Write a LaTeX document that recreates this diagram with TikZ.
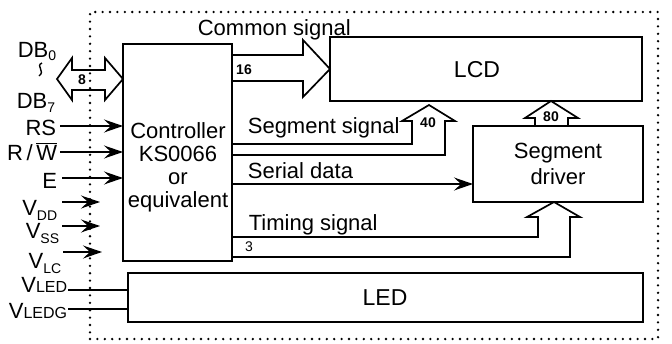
\documentclass[tikz,border=0pt]{standalone}
\usepackage{fontspec}
\setmainfont{Liberation Sans}
\usetikzlibrary{arrows.meta}
\newcommand\lowsub[2][4pt]{\raisebox{-#1}{\fontsize{14}{14}\selectfont #2}}
\newcommand\smc[1]{{\fontsize{16}{16}\selectfont #1}}
\begin{document}
\begin{tikzpicture}[x=1pt,y=-1pt,line width=1.7pt,
  box/.style={draw,line width=1.9pt,inner sep=0pt,outer sep=0pt,anchor=north west},
  txt/.style={font=\fontsize{22}{24}\selectfont,inner sep=0pt},
  big/.style={font=\fontsize{23}{24}\selectfont,inner sep=0pt},
  num/.style={font=\fontsize{14}{14}\selectfont\bfseries,inner sep=0pt},
  sig/.style={-{Stealth[length=19pt,width=13pt,inset=7pt]},line width=1.7pt},
  wide/.style={line width=1.7pt,line join=miter},
  frame/.style={draw,line width=2.6pt,dash pattern=on 0pt off 7.4pt,line cap=round,inner sep=0pt,outer sep=0pt,anchor=north west}]
\useasboundingbox (0,0) rectangle (672,343);
% dotted module frame
\node[frame,minimum width=568pt,minimum height=327pt] (module) at (90,12) {};
% blocks
\node[box,minimum width=109pt,minimum height=217pt] (ctrl) at (123,44) {};
\node[box,minimum width=312pt,minimum height=64pt] (lcd) at (330,37) {};
\node[box,minimum width=170pt,minimum height=76pt] (drv) at (473,126) {};
\node[box,minimum width=515pt,minimum height=49pt] (led) at (128,273) {};
% block texts
\node[txt,align=center] (ctrlt) at (178,167) {Controller\\[-1pt]KS0066\\[-1pt]or\\[-1pt]equivalent};
\node[big] (lcdt) at (477,70) {LCD};
\node[big] (ledt) at (385,298) {LED};
\node[txt,align=center] (drvt) at (558,164) {Segment\\[2pt]driver};
% common signal
\node[txt,anchor=base west] (comt) at (197,35) {Common signal};
\draw[wide] (ctrl.east |- 0,55) -- (303,55) -- (303,40) -- (lcd.west |- 0,69) -- (303,97) -- (303,81) -- (ctrl.east |- 0,81);
\node[num] (n16) at (244,70) {16};
% segment signal
\node[txt,anchor=base west] (segt) at (247,133) {Segment signal};
\draw[wide] (ctrl.east |- 0,155) -- (445,155) -- (445,121) -- (455,121) -- (429,105) -- (402,121) -- (412,121) -- (412,144) -- (ctrl.east |- 0,144);
\node[num] (n40) at (428,123) {40};
% 80 bus
\draw[wide] (drv.north -| 535,0) -- (535,118) -- (525,118) -- (lcd.south -| 551,0) -- (578,118) -- (568,118) -- (drv.north -| 568,0);
\node[num] (n80) at (551,117) {80};
% serial data
\node[txt,anchor=base west] (sert) at (247,178) {Serial data};
\draw[sig] (ctrl.east |- 0,184) -- (drv.west |- 0,184);
% timing signal
\node[txt,anchor=base west] (timt) at (248,230) {Timing signal};
\draw[wide] (ctrl.east |- 0,257) -- (570,257) -- (570,217) -- (580,217) -- (drv.south -| 554,0) -- (527,217) -- (538,217) -- (538,237) -- (ctrl.east |- 0,237);
\node[num,font=\fontsize{14}{14}\selectfont] (n3) at (249,247) {3};
% data bus
\draw[wide] (72,70) -- (105,70) -- (105,58) -- (ctrl.west |- 0,79) -- (105,100) -- (105,90) -- (72,90) -- (72,100) -- (57,79) -- (72,58) -- cycle;
\node[num] (n8) at (82,80) {8};
% left labels
\node[txt,anchor=base east] (db0) at (57,57) {DB\lowsub[3pt]{0}};
\draw[line width=1.4pt] (42,63) .. controls (35,66) and (46,71) .. (39,76);
\node[txt,anchor=base east] (db7) at (56,108) {DB\lowsub{7}};
\node[txt,anchor=base east] (rs) at (57,135) {RS};
\node[txt,anchor=base east] (rw) at (58,160) {R\,/\,$\overline{\hbox{W}}$};
\node[txt,anchor=base east] (e) at (58,188) {E};
\node[txt,anchor=base east] (vdd) at (58,215) {V\lowsub[5pt]{DD}};
\node[txt,anchor=base east] (vss) at (60,238) {V\lowsub[5pt]{SS}};
\node[txt,anchor=base east] (vlc) at (62,268) {V\lowsub[5pt]{LC}};
\node[txt,anchor=base east] (vled) at (68,292) {V\smc{LED}};
\node[txt,anchor=base east] (vledg) at (68,318) {V\smc{LEDG}};
% input coordinates
\coordinate (rsin) at (60,126);
\coordinate (rwin) at (60,152);
\coordinate (ein) at (62,178);
\coordinate (vddin) at (62,202);
\coordinate (vssin) at (62,226);
\coordinate (vlcin) at (63,252);
\coordinate (vddend) at (100,202);
\coordinate (vssend) at (100,226);
\coordinate (vlcend) at (102,252);
\coordinate (vledin) at (68,290);
\coordinate (vledgin) at (68,309);
\draw[sig] (rsin) -- (rsin -| ctrl.west);
\draw[sig] (rwin) -- (rwin -| ctrl.west);
\draw[sig] (ein) -- (ein -| ctrl.west);
\draw[sig] (vddin) -- (vddend);
\draw[sig] (vssin) -- (vssend);
\draw[sig] (vlcin) -- (vlcend);
\draw (vledin) -- (vledin -| led.west);
\draw (vledgin) -- (vledgin -| led.west);
\end{tikzpicture}
\end{document}
